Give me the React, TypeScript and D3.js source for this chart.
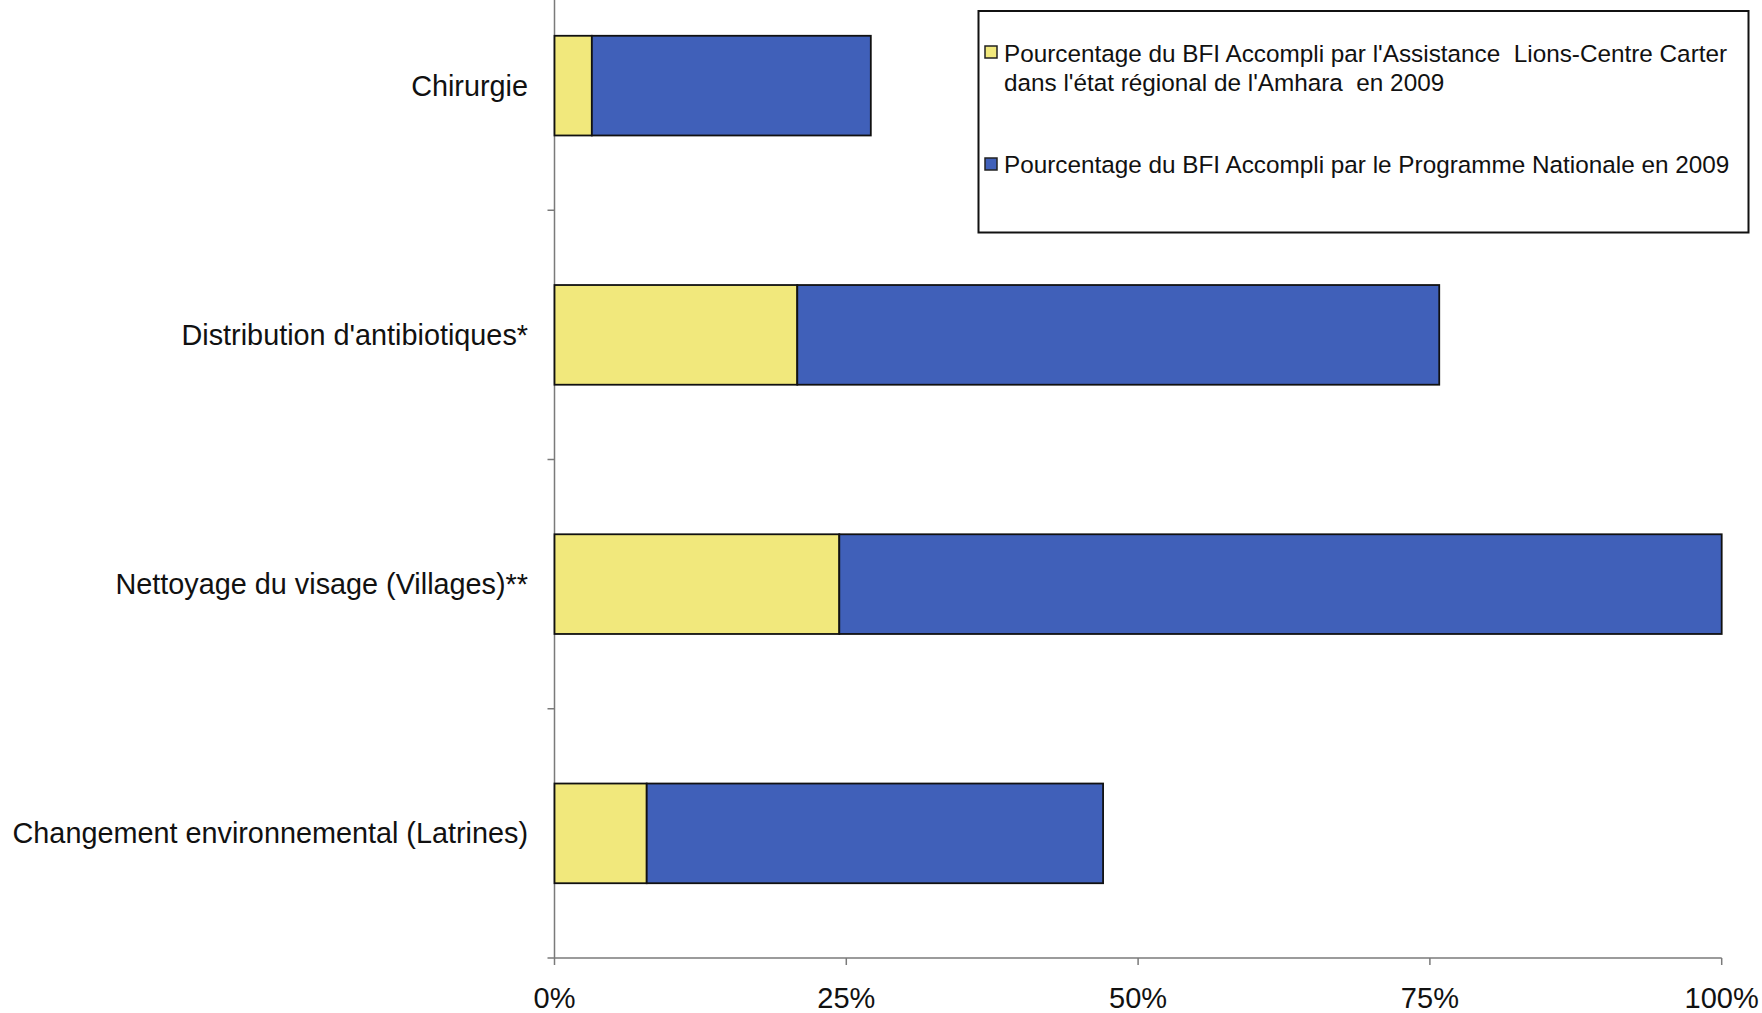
import React from "react";
import * as d3 from "d3";

const categories = [
  "Chirurgie",
  "Distribution d'antibiotiques*",
  "Nettoyage du visage (Villages)**",
  "Changement environnemental (Latrines)",
];
const lionsCarter = [3.2, 20.8, 24.4, 7.9];
const national = [23.9, 55.0, 75.6, 39.1];
const xTicks = [0, 25, 50, 75, 100];
const legendLabels = [
  ["Pourcentage du BFI Accompli par l'Assistance  Lions-Centre Carter", "dans l'\u00e9tat r\u00e9gional de l'Amhara  en 2009"],
  ["Pourcentage du BFI Accompli par le Programme Nationale en 2009"],
];
const colors = ["#F1E87C", "#4060B9"];

const W = 1762;
const H = 1013;
const FONT = "'Liberation Sans', Arial, sans-serif";

export default function App() {
  const x = d3.scaleLinear().domain([0, 100]).range([554.5, 1721.7]);
  const y = d3
    .scaleBand<string>()
    .domain(categories)
    .range([-39, 958])
    .paddingInner(0.6)
    .paddingOuter(0.3);
  const bw = y.bandwidth();
  const step = y.step();
  const axisY = 958;

  const stackData = categories.map((c, i) => ({ c, a: lionsCarter[i], b: national[i] }));
  const stack = d3.stack<any>().keys(["a", "b"])(stackData);

  const boundaries = categories.map((c) => (y(c) as number) + bw + (step - bw) / 2);

  return (
    <svg
      width={W}
      height={H}
      style={{ position: "fixed", left: 0, top: 0, background: "#fff" }}
      fontFamily={FONT}
    >
      <rect x={0} y={0} width={W} height={H} fill="#fff" />
      {/* y axis */}
      <line x1={x(0)} x2={x(0)} y1={0} y2={axisY} stroke="#7a7a7a" strokeWidth={1.5} />
      {boundaries.map((b, i) => (
        <line key={i} x1={x(0) - 7} x2={x(0)} y1={b} y2={b} stroke="#7a7a7a" strokeWidth={1.5} />
      ))}
      {/* x axis */}
      <line x1={x(0)} x2={x(100)} y1={axisY} y2={axisY} stroke="#7a7a7a" strokeWidth={1.5} />
      {xTicks.map((t) => (
        <g key={t}>
          <line x1={x(t)} x2={x(t)} y1={axisY} y2={axisY + 7} stroke="#7a7a7a" strokeWidth={1.5} />
          <text x={x(t)} y={1008} textAnchor="middle" fontSize={29} fill="#111">
            {t}%
          </text>
        </g>
      ))}
      {/* bars */}
      {stack.map((s, si) =>
        s.map((d, i) => (
          <rect
            key={si + "-" + i}
            x={x(d[0])}
            y={y(categories[i])}
            width={x(d[1]) - x(d[0])}
            height={bw}
            fill={colors[si]}
            stroke="#111"
            strokeWidth={1.8}
          />
        ))
      )}
      {/* category labels */}
      {categories.map((c) => (
        <text
          key={c}
          x={528}
          y={(y(c) as number) + bw / 2}
          dy="0.35em"
          textAnchor="end"
          fontSize={28.8}
          fill="#111"
        >
          {c}
        </text>
      ))}
      {/* legend */}
      <rect x={978.5} y={11} width={770} height={221.5} fill="#fff" stroke="#111" strokeWidth={2} />
      <rect x={985} y={46} width={12} height={12} fill={colors[0]} stroke="#222" strokeWidth={1.5} />
      <rect x={985} y={158} width={12} height={12} fill={colors[1]} stroke="#222" strokeWidth={1.5} />
      <text x={1004} y={61.5} fontSize={24.3} fill="#111" style={{ whiteSpace: "pre" }}>
        {legendLabels[0][0]}
      </text>
      <text x={1004} y={90.5} fontSize={24.3} fill="#111" style={{ whiteSpace: "pre" }}>
        {legendLabels[0][1]}
      </text>
      <text x={1004} y={172.5} fontSize={24.3} fill="#111" style={{ whiteSpace: "pre" }}>
        {legendLabels[1][0]}
      </text>
    </svg>
  );
}
